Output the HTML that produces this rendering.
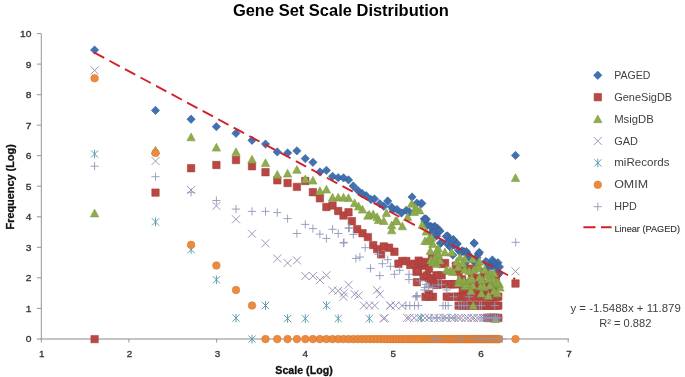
<!DOCTYPE html>
<html><head><meta charset="utf-8"><style>
html,body{margin:0;padding:0;background:#fff;}
svg{display:block;will-change:transform;}
text{font-family:"Liberation Sans",sans-serif;}
</style></head><body>
<svg width="685" height="377" viewBox="0 0 685 377">
<rect width="685" height="377" fill="#fff"/>
<text x="232.9" y="15.8" font-size="16.5" font-weight="bold" fill="#000" textLength="216" lengthAdjust="spacingAndGlyphs">Gene Set Scale Distribution</text>
<path d="M41.3 33.6V342.5" stroke="#959595" stroke-width="1" fill="none"/><path d="M36.9 339H568.8" stroke="#8a8a8a" stroke-width="1" fill="none"/><path d="M36.9 308.4H41M36.9 277.8H41M36.9 247.3H41M36.9 216.8H41M36.9 186.2H41M36.9 155.7H41M36.9 125.2H41M36.9 94.7H41M36.9 64.1H41M36.9 33.6H41M128.9 338.9V342.5M216.7 338.9V342.5M304.6 338.9V342.5M392.5 338.9V342.5M480.4 338.9V342.5M568.2 338.9V342.5" stroke="#959595" stroke-width="1" fill="none"/>
<g font-size="9" fill="#333" stroke="#333" stroke-width="0.3"><text x="25.7" y="342.4" textLength="5.7" lengthAdjust="spacingAndGlyphs">0</text><text x="25.7" y="311.9" textLength="5.7" lengthAdjust="spacingAndGlyphs">1</text><text x="25.7" y="281.3" textLength="5.7" lengthAdjust="spacingAndGlyphs">2</text><text x="25.7" y="250.8" textLength="5.7" lengthAdjust="spacingAndGlyphs">3</text><text x="25.7" y="220.3" textLength="5.7" lengthAdjust="spacingAndGlyphs">4</text><text x="25.7" y="189.7" textLength="5.7" lengthAdjust="spacingAndGlyphs">5</text><text x="25.7" y="159.2" textLength="5.7" lengthAdjust="spacingAndGlyphs">6</text><text x="25.7" y="128.7" textLength="5.7" lengthAdjust="spacingAndGlyphs">7</text><text x="25.7" y="98.2" textLength="5.7" lengthAdjust="spacingAndGlyphs">8</text><text x="25.7" y="67.6" textLength="5.7" lengthAdjust="spacingAndGlyphs">9</text><text x="20" y="37.1" textLength="11.4" lengthAdjust="spacingAndGlyphs">10</text><text x="39" y="356.9" textLength="5.5" lengthAdjust="spacingAndGlyphs">1</text><text x="126.8" y="356.9" textLength="5.5" lengthAdjust="spacingAndGlyphs">2</text><text x="214.7" y="356.9" textLength="5.5" lengthAdjust="spacingAndGlyphs">3</text><text x="302.6" y="356.9" textLength="5.5" lengthAdjust="spacingAndGlyphs">4</text><text x="390.4" y="356.9" textLength="5.5" lengthAdjust="spacingAndGlyphs">5</text><text x="478.3" y="356.9" textLength="5.5" lengthAdjust="spacingAndGlyphs">6</text><text x="566.2" y="356.9" textLength="5.5" lengthAdjust="spacingAndGlyphs">7</text></g>
<text transform="translate(13.6 229.5) rotate(-90)" font-size="10.6" font-weight="bold" fill="#111" stroke="#111" stroke-width="0.3" textLength="85.3" lengthAdjust="spacingAndGlyphs">Frequency (Log)</text>
<text x="275.3" y="374.4" font-size="10.6" font-weight="bold" fill="#111" stroke="#111" stroke-width="0.3" textLength="57.4" lengthAdjust="spacingAndGlyphs">Scale (Log)</text>
<path d="M94.6 45.9L98.7 50L94.6 54.1L90.4 50ZM155.5 106.2L159.6 110.4L155.5 114.6L151.3 110.4ZM191.1 115L195.2 119.2L191.1 123.4L186.9 119.2ZM216.4 122.5L220.5 126.7L216.4 130.8L212.2 126.7ZM236 129.2L240.1 133.3L236 137.5L231.8 133.3ZM252 136.2L256.1 140.3L252 144.5L247.8 140.3ZM265.5 139.9L269.7 144.1L265.5 148.2L261.4 144.1ZM277.3 147.8L281.4 151.9L277.3 156.1L273.1 151.9ZM287.6 148.8L291.8 152.9L287.6 157.1L283.5 152.9ZM296.9 146.7L301 150.8L296.9 155L292.7 150.8ZM305.3 154.4L309.4 158.6L305.3 162.8L301.1 158.6ZM312.9 158.2L317.1 162.3L312.9 166.5L308.8 162.3ZM319.9 167.8L324.1 172L319.9 176.2L315.8 172ZM326.4 166.2L330.6 170.3L326.4 174.5L322.3 170.3ZM332.5 172.2L336.7 176.3L332.5 180.5L328.4 176.3ZM338.2 173.5L342.3 177.7L338.2 181.8L334 177.7ZM343.5 173.7L347.7 177.8L343.5 182L339.4 177.8ZM348.5 175.8L352.7 179.9L348.5 184.1L344.4 179.9ZM353.3 181.8L357.4 186L353.3 190.2L349.1 186ZM357.8 186.2L361.9 190.3L357.8 194.5L353.6 190.3ZM362.1 189.3L366.2 193.5L362.1 197.7L357.9 193.5ZM366.2 191.5L370.3 195.7L366.2 199.8L362 195.7ZM371 195.3L375.1 199.5L371 203.7L366.9 199.5ZM374.5 194.8L378.6 198.9L374.5 203.1L370.4 198.9ZM379.8 199.5L383.9 203.7L379.8 207.8L375.7 203.7ZM383.8 202.2L387.9 206.3L383.8 210.5L379.7 206.3ZM387.7 196.8L391.8 201L387.7 205.2L383.6 201ZM391.5 202.8L395.6 207L391.5 211.2L387.4 207ZM393 205.3L397.1 209.5L393 213.7L388.9 209.5ZM397 205.3L401.1 209.5L397 213.7L392.9 209.5ZM401.5 208.8L405.6 213L401.5 217.2L397.4 213ZM406.3 206.2L410.4 210.3L406.3 214.5L402.2 210.3ZM409.5 207.8L413.6 212L409.5 216.2L405.4 212ZM412.1 192.8L416.2 197L412.1 201.2L408 197ZM416.9 198.9L421 203.1L416.9 207.2L412.8 203.1ZM420.9 199.5L425 203.7L420.9 207.8L416.8 203.7ZM424.4 214.8L428.5 219L424.4 223.2L420.2 219ZM430.2 222L434.3 226.2L430.2 230.3L426.1 226.2ZM435 223.3L439.1 227.5L435 231.7L430.9 227.5ZM438.7 227.3L442.8 231.5L438.7 235.7L434.6 231.5ZM426.3 215L430.4 219.2L426.3 223.3L422.2 219.2ZM431.6 222.9L435.8 227.1L431.6 231.2L427.5 227.1ZM436.9 225.7L441 229.8L436.9 234L432.8 229.8ZM440.9 238.8L445 243L440.9 247.2L436.8 243ZM446.2 232.2L450.3 236.4L446.2 240.6L442.1 236.4ZM450.2 242.8L454.3 247L450.2 251.2L446.1 247ZM452.9 236.2L457 240.4L452.9 244.6L448.8 240.4ZM456.8 240.2L460.9 244.4L456.8 248.6L452.7 244.4ZM462.1 246.8L466.2 251L462.1 255.2L458 251ZM467.4 249.5L471.5 253.7L467.4 257.8L463.2 253.7ZM474.1 238.8L478.2 243L474.1 247.2L470 243ZM476.7 253.5L480.8 257.6L476.7 261.8L472.6 257.6ZM479.4 248.2L483.5 252.3L479.4 256.4L475.2 252.3ZM486 257.5L490.1 261.6L486 265.8L481.9 261.6ZM490 261.5L494.1 265.6L490 269.8L485.9 265.6ZM494 258.9L498.1 263L494 267.1L489.9 263ZM499.3 262.8L503.4 266.9L499.3 271L495.2 266.9ZM498 270.8L502.1 274.9L498 279L493.9 274.9ZM515.5 151.2L519.6 155.4L515.5 159.6L511.4 155.4ZM421.9 199.2L426 203.4L421.9 207.6L417.8 203.4ZM425.2 214.7L429.3 218.8L425.2 223L421.1 218.8ZM431.5 222.8L435.6 226.9L431.5 231.1L427.4 226.9ZM437.6 224.2L441.8 228.4L437.6 232.6L433.5 228.4ZM447.5 231.7L451.6 235.8L447.5 240L443.4 235.8ZM453.4 235.3L457.5 239.5L453.4 243.7L449.2 239.5ZM457.1 239.4L461.2 243.6L457.1 247.8L453 243.6ZM440.4 239.2L444.5 243.3L440.4 247.5L436.2 243.3ZM474.2 239.2L478.3 243.3L474.2 247.5L470.1 243.3ZM460.8 248.3L464.9 252.5L460.8 256.6L456.7 252.5ZM466.4 247.4L470.5 251.6L466.4 255.8L462.2 251.6ZM478.5 249.3L482.6 253.5L478.5 257.6L474.4 253.5ZM492.4 255.8L496.5 260L492.4 264.1L488.2 260ZM498 258.6L502.1 262.7L498 266.8L493.9 262.7ZM470.1 254L474.2 258.1L470.1 262.2L466 258.1ZM450.2 242.8L454.3 247L450.2 251.2L446.1 247ZM462.1 246.8L466.2 251L462.1 255.2L458 251ZM494 258.9L498.1 263L494 267.1L489.9 263ZM486 257.5L490.1 261.6L486 265.8L481.9 261.6ZM490 261.5L494.1 265.6L490 269.8L485.9 265.6ZM499.3 262.8L503.4 266.9L499.3 271L495.2 266.9ZM498 270.8L502.1 274.9L498 279L493.9 274.9ZM476.7 253.5L480.8 257.6L476.7 261.8L472.6 257.6ZM425 217.2L429.2 221.4L425 225.5L420.9 221.4ZM427.1 220.9L431.2 225L427.1 229.2L422.9 225ZM431 228.9L435.1 233.1L431 237.2L426.8 233.1ZM432.9 231.1L437 235.3L432.9 239.4L428.7 235.3ZM434.7 222.1L438.9 226.3L434.7 230.4L430.6 226.3ZM436.5 231.9L440.7 236L436.5 240.2L432.4 236ZM440 226.8L444.2 230.9L440 235.1L435.9 230.9ZM446.7 239.1L450.8 243.2L446.7 247.4L442.5 243.2ZM449.8 235.4L454 239.5L449.8 243.7L445.7 239.5ZM452.8 250.9L457 255L452.8 259.2L448.7 255ZM454.3 241.3L458.5 245.4L454.3 249.6L450.2 245.4ZM458.6 246.4L462.8 250.6L458.6 254.7L454.5 250.6ZM464 247.5L468.2 251.6L464 255.8L459.9 251.6ZM465.3 258.9L469.5 263.1L465.3 267.2L461.2 263.1ZM469.1 251.5L473.3 255.7L469.1 259.8L465 255.7ZM472.7 256.1L476.9 260.3L472.7 264.4L468.6 260.3ZM473.9 256.9L478.1 261L473.9 265.2L469.8 261ZM477.4 258.9L481.5 263L477.4 267.2L473.2 263ZM478.5 249.9L482.6 254.1L478.5 258.2L474.3 254.1ZM488 263.8L492.1 267.9L488 272.1L483.8 267.9ZM491.9 262.3L496 266.5L491.9 270.6L487.7 266.5ZM493.8 258.6L497.9 262.7L493.8 266.9L489.6 262.7ZM495.6 261.8L499.8 266L495.6 270.1L491.5 266ZM497.4 267.2L501.6 271.4L497.4 275.5L493.3 271.4ZM499.2 269.2L503.4 273.3L499.2 277.5L495.1 273.3Z" fill="#4271B2" stroke="#375F9A" stroke-width="0.6"/>
<path d="M90.9 335.4h7.4v7.4h-7.4ZM151.8 188.9h7.4v7.4h-7.4ZM187.4 164.5h7.4v7.4h-7.4ZM212.7 161.3h7.4v7.4h-7.4ZM232.3 156.3h7.4v7.4h-7.4ZM248.3 162.5h7.4v7.4h-7.4ZM261.8 168.5h7.4v7.4h-7.4ZM273.6 176.6h7.4v7.4h-7.4ZM283.9 179.3h7.4v7.4h-7.4ZM293.2 183.2h7.4v7.4h-7.4ZM301.6 177.3h7.4v7.4h-7.4ZM309.2 188.5h7.4v7.4h-7.4ZM316.2 194.6h7.4v7.4h-7.4ZM322.7 203.3h7.4v7.4h-7.4ZM328.8 201.8h7.4v7.4h-7.4ZM334.5 207.3h7.4v7.4h-7.4ZM339.8 211.8h7.4v7.4h-7.4ZM344.8 208.6h7.4v7.4h-7.4ZM348.2 217.5h7.4v7.4h-7.4ZM353.5 225.5h7.4v7.4h-7.4ZM358.8 229.5h7.4v7.4h-7.4ZM364.2 233.4h7.4v7.4h-7.4ZM369.5 241.4h7.4v7.4h-7.4ZM373.4 245.4h7.4v7.4h-7.4ZM377.4 250.7h7.4v7.4h-7.4ZM380.1 242.7h7.4v7.4h-7.4ZM385.4 244h7.4v7.4h-7.4ZM390.7 248h7.4v7.4h-7.4ZM394.7 260h7.4v7.4h-7.4ZM398.6 257.3h7.4v7.4h-7.4ZM402.6 257.3h7.4v7.4h-7.4ZM406.6 261.3h7.4v7.4h-7.4ZM410.6 260h7.4v7.4h-7.4ZM414.5 266.6h7.4v7.4h-7.4ZM413.2 278.5h7.4v7.4h-7.4ZM419.9 273.2h7.4v7.4h-7.4ZM425.2 274.5h7.4v7.4h-7.4ZM429.1 277.2h7.4v7.4h-7.4ZM433.1 281.2h7.4v7.4h-7.4ZM425.2 290.5h7.4v7.4h-7.4ZM511.8 279.8h7.4v7.4h-7.4ZM412.8 268.1h7.4v7.4h-7.4ZM415 256.9h7.4v7.4h-7.4ZM417.2 259.3h7.4v7.4h-7.4ZM419.3 259.3h7.4v7.4h-7.4ZM421.3 262h7.4v7.4h-7.4ZM423.4 271.7h7.4v7.4h-7.4ZM425.3 264.9h7.4v7.4h-7.4ZM427.3 275.8h7.4v7.4h-7.4ZM429.2 280.5h7.4v7.4h-7.4ZM431 256.9h7.4v7.4h-7.4ZM432.8 271.7h7.4v7.4h-7.4ZM434.6 271.7h7.4v7.4h-7.4ZM436.3 280.5h7.4v7.4h-7.4ZM438 271.7h7.4v7.4h-7.4ZM439.7 280.5h7.4v7.4h-7.4ZM441.4 259.3h7.4v7.4h-7.4ZM443 292.9h7.4v7.4h-7.4ZM444.6 280.5h7.4v7.4h-7.4ZM447.6 280.5h7.4v7.4h-7.4ZM449.1 280.5h7.4v7.4h-7.4ZM450.6 280.5h7.4v7.4h-7.4ZM452.1 262h7.4v7.4h-7.4ZM453.5 292.9h7.4v7.4h-7.4ZM454.9 268.1h7.4v7.4h-7.4ZM456.3 280.5h7.4v7.4h-7.4ZM457.7 275.8h7.4v7.4h-7.4ZM459 286.1h7.4v7.4h-7.4ZM461.6 292.9h7.4v7.4h-7.4ZM462.9 286.1h7.4v7.4h-7.4ZM466.6 280.5h7.4v7.4h-7.4ZM467.9 264.9h7.4v7.4h-7.4ZM469 286.1h7.4v7.4h-7.4ZM470.2 286.1h7.4v7.4h-7.4ZM471.4 286.1h7.4v7.4h-7.4ZM473.7 286.1h7.4v7.4h-7.4ZM474.8 280.5h7.4v7.4h-7.4ZM475.9 275.8h7.4v7.4h-7.4ZM477 275.8h7.4v7.4h-7.4ZM478.1 286.1h7.4v7.4h-7.4ZM479.1 286.1h7.4v7.4h-7.4ZM480.2 280.5h7.4v7.4h-7.4ZM482.3 280.5h7.4v7.4h-7.4ZM483.3 286.1h7.4v7.4h-7.4ZM484.3 286.1h7.4v7.4h-7.4ZM485.3 292.9h7.4v7.4h-7.4ZM486.2 275.8h7.4v7.4h-7.4ZM487.2 286.1h7.4v7.4h-7.4ZM488.2 292.9h7.4v7.4h-7.4ZM489.1 280.5h7.4v7.4h-7.4ZM490.1 286.1h7.4v7.4h-7.4ZM491 271.7h7.4v7.4h-7.4ZM491.9 292.9h7.4v7.4h-7.4ZM494.6 292.9h7.4v7.4h-7.4ZM421.3 258.3h7.4v7.4h-7.4ZM428.3 254.3h7.4v7.4h-7.4ZM434.3 256.3h7.4v7.4h-7.4ZM438.3 260.3h7.4v7.4h-7.4ZM483.3 314.2h7.4v7.4h-7.4ZM485.3 314.2h7.4v7.4h-7.4ZM487.2 314.2h7.4v7.4h-7.4ZM489.1 314.2h7.4v7.4h-7.4ZM491 314.2h7.4v7.4h-7.4ZM492.8 314.2h7.4v7.4h-7.4ZM494.6 314.2h7.4v7.4h-7.4ZM454.9 301.9h7.4v7.4h-7.4ZM457.7 301.9h7.4v7.4h-7.4ZM460.3 301.9h7.4v7.4h-7.4ZM462.9 301.9h7.4v7.4h-7.4ZM465.4 301.9h7.4v7.4h-7.4ZM467.9 301.9h7.4v7.4h-7.4ZM470.2 301.9h7.4v7.4h-7.4ZM472.5 301.9h7.4v7.4h-7.4ZM474.8 301.9h7.4v7.4h-7.4ZM477 301.9h7.4v7.4h-7.4ZM479.1 301.9h7.4v7.4h-7.4ZM481.2 301.9h7.4v7.4h-7.4ZM483.3 301.9h7.4v7.4h-7.4ZM485.3 301.9h7.4v7.4h-7.4ZM487.2 301.9h7.4v7.4h-7.4ZM489.1 301.9h7.4v7.4h-7.4ZM491 301.9h7.4v7.4h-7.4ZM492.8 301.9h7.4v7.4h-7.4ZM494.6 301.9h7.4v7.4h-7.4ZM460.8 264.9h7.4v7.4h-7.4ZM468.3 270.3h7.4v7.4h-7.4ZM474.3 274.3h7.4v7.4h-7.4ZM480.3 268.3h7.4v7.4h-7.4ZM486.3 276.3h7.4v7.4h-7.4ZM492.3 272.3h7.4v7.4h-7.4ZM466.3 279.3h7.4v7.4h-7.4ZM476.3 282.3h7.4v7.4h-7.4ZM482.3 280.7h7.4v7.4h-7.4ZM458.3 276h7.4v7.4h-7.4ZM421.8 293.1h7.4v7.4h-7.4ZM425.3 293.1h7.4v7.4h-7.4ZM429.3 293.1h7.4v7.4h-7.4ZM446.1 293.1h7.4v7.4h-7.4ZM452.1 293.1h7.4v7.4h-7.4ZM457.7 293.1h7.4v7.4h-7.4ZM462.9 293.1h7.4v7.4h-7.4ZM467.9 293.1h7.4v7.4h-7.4ZM472.5 293.1h7.4v7.4h-7.4ZM477 293.1h7.4v7.4h-7.4ZM481.2 293.1h7.4v7.4h-7.4ZM485.3 293.1h7.4v7.4h-7.4ZM489.1 293.1h7.4v7.4h-7.4ZM492.8 293.1h7.4v7.4h-7.4Z" fill="#B94744" stroke="#A83F3C" stroke-width="0.6"/>
<path d="M94.6 209.1L98.8 216.9L90.4 216.9ZM155.5 146.3L159.7 154.1L151.3 154.1ZM191.1 133L195.3 140.8L186.9 140.8ZM216.4 143.3L220.6 151.1L212.2 151.1ZM236 147.8L240.2 155.6L231.8 155.6ZM252 155.2L256.2 163L247.8 163ZM265.5 158.8L269.7 166.6L261.3 166.6ZM277.3 170.4L281.5 178.2L273.1 178.2ZM287.6 169.3L291.8 177.1L283.4 177.1ZM296.9 165.5L301.1 173.3L292.7 173.3ZM305.3 175L309.5 182.8L301.1 182.8ZM312.9 176.3L317.1 184.1L308.7 184.1ZM319.9 186.8L324.1 194.6L315.7 194.6ZM326.4 185.2L330.6 193L322.2 193ZM332.5 193.3L336.7 201.1L328.3 201.1ZM338.2 193.3L342.4 201.1L334 201.1ZM343.5 193.3L347.7 201.1L339.3 201.1ZM348.5 193.8L352.7 201.6L344.3 201.6ZM354.6 198.9L358.8 206.7L350.4 206.7ZM358.6 202.1L362.8 209.9L354.4 209.9ZM362.5 205.3L366.7 213.1L358.3 213.1ZM367.9 211.4L372.1 219.2L363.7 219.2ZM373.2 210.1L377.4 217.9L369 217.9ZM377.1 212.8L381.3 220.6L372.9 220.6ZM383.8 216.7L388 224.5L379.6 224.5ZM386.4 208.8L390.6 216.6L382.2 216.6ZM391.7 226L395.9 233.8L387.5 233.8ZM395.7 216.7L399.9 224.5L391.5 224.5ZM402.3 222L406.5 229.8L398.1 229.8ZM407.6 212.7L411.8 220.5L403.4 220.5ZM411.6 199.5L415.8 207.3L407.4 207.3ZM415.6 203.4L419.8 211.2L411.4 211.2ZM419.6 206.1L423.8 213.9L415.4 213.9ZM422.2 220.7L426.4 228.5L418 228.5ZM426.2 227.3L430.4 235.1L422 235.1ZM431.5 233.4L435.7 241.2L427.3 241.2ZM369.2 210.4L373.4 218.2L365 218.2ZM378.5 215.7L382.7 223.5L374.3 223.5ZM391.7 221L395.9 228.8L387.5 228.8ZM397 217L401.2 224.8L392.8 224.8ZM414.3 207.7L418.5 215.5L410.1 215.5ZM427.5 236.9L431.7 244.7L423.3 244.7ZM432.8 239.6L437 247.4L428.6 247.4ZM432.8 258.1L437 265.9L428.6 265.9ZM436.8 246.2L441 254L432.6 254ZM429 234.9L433.2 242.7L424.8 242.7ZM430.3 246.8L434.5 254.6L426.1 254.6ZM438.3 244.2L442.5 252L434.1 252ZM444.9 248.1L449.1 255.9L440.7 255.9ZM451.5 248.1L455.7 255.9L447.3 255.9ZM456.8 257.4L461 265.2L452.6 265.2ZM464.8 254.8L469 262.6L460.6 262.6ZM472.7 254.8L476.9 262.6L468.5 262.6ZM479.4 257.4L483.6 265.2L475.2 265.2ZM434.3 257.4L438.5 265.2L430.1 265.2ZM439.6 256.1L443.8 263.9L435.4 263.9ZM450.2 266.7L454.4 274.5L446 274.5ZM458.2 262.7L462.4 270.5L454 270.5ZM464.8 265.4L469 273.2L460.6 273.2ZM474.1 265.4L478.3 273.2L469.9 273.2ZM478 264L482.2 271.8L473.8 271.8ZM484.7 265.4L488.9 273.2L480.5 273.2ZM487.3 270.7L491.5 278.5L483.1 278.5ZM488.7 274.7L492.9 282.5L484.5 282.5ZM494 276L498.2 283.8L489.8 283.8ZM498 278.6L502.2 286.4L493.8 286.4ZM459.5 276L463.7 283.8L455.3 283.8ZM468.8 276L473 283.8L464.6 283.8ZM479.4 273.3L483.6 281.1L475.2 281.1ZM490 281.3L494.2 289.1L485.8 289.1ZM495.4 314.8L499.6 322.6L491.2 322.6ZM515.5 173.7L519.7 181.5L511.3 181.5ZM470.9 286.8L475.1 294.6L466.7 294.6ZM488.4 291.5L492.6 299.3L484.2 299.3ZM481.4 289.2L485.6 297L477.2 297ZM473.2 301.4L477.4 309.2L469 309.2ZM459.2 275.1L463.4 282.9L455 282.9ZM500 283.3L504.2 291.1L495.8 291.1ZM465 281.8L469.2 289.6L460.8 289.6ZM494 286.8L498.2 294.6L489.8 294.6ZM425 236.8L429.2 244.5L420.8 244.5ZM431 255.9L435.2 263.7L426.8 263.7ZM434.7 254L438.9 261.7L430.5 261.7ZM436.5 259.8L440.7 267.6L432.3 267.6ZM438.3 250.4L442.5 258.2L434.1 258.2ZM446.7 265.6L450.9 273.3L442.5 273.3ZM452.8 267.6L457 275.4L448.6 275.4ZM458.6 278.7L462.8 286.5L454.4 286.5ZM460 253.1L464.2 260.9L455.8 260.9ZM462.7 259.4L466.9 267.1L458.5 267.1ZM464 277.1L468.2 284.9L459.8 284.9ZM466.6 279.7L470.8 287.5L462.4 287.5ZM469.1 266.9L473.3 274.7L464.9 274.7ZM471.6 274.4L475.8 282.2L467.4 282.2ZM472.7 281.3L476.9 289.1L468.5 289.1ZM478.5 261.3L482.7 269.1L474.3 269.1ZM480.7 282.2L484.9 289.9L476.5 289.9ZM481.8 275.8L486 283.6L477.6 283.6ZM483.9 282.7L488.1 290.5L479.7 290.5ZM489.9 269.2L494.1 277L485.7 277ZM491.9 273.9L496.1 281.6L487.7 281.6ZM493.8 268.9L498 276.7L489.6 276.7ZM496.5 278.3L500.7 286.1L492.3 286.1ZM497.4 289.1L501.6 296.8L493.2 296.8ZM499.2 279.6L503.4 287.4L495 287.4Z" fill="#8FAD4F" stroke="#809F43" stroke-width="0.6"/>
<path d="M90.6 66.4L98.6 74.4M98.6 66.4L90.6 74.4M151.5 157L159.5 165M159.5 157L151.5 165M187.1 186L195.1 194M195.1 186L187.1 194M212.4 201.9L220.4 209.9M220.4 201.9L212.4 209.9M232 215.3L240 223.3M240 215.3L232 223.3M248 229.7L256 237.7M256 229.7L248 237.7M261.5 239.3L269.5 247.3M269.5 239.3L261.5 247.3M273.3 254.5L281.3 262.5M281.3 254.5L273.3 262.5M283.6 259L291.6 267M291.6 259L283.6 267M292.9 256.4L300.9 264.4M300.9 256.4L292.9 264.4M301.3 272L309.3 280M309.3 272L301.3 280M308.9 272L316.9 280M316.9 272L308.9 280M315.9 276L323.9 284M323.9 276L315.9 284M322.4 271.3L330.4 279.3M330.4 271.3L322.4 279.3M328.5 286.3L336.5 294.3M336.5 286.3L328.5 294.3M334.2 286.8L342.2 294.8M342.2 286.8L334.2 294.8M339.5 292.8L347.5 300.8M347.5 292.8L339.5 300.8M344.5 280.8L352.5 288.8M352.5 280.8L344.5 288.8M340 288.8L348 296.8M348 288.8L340 296.8M350.6 290.2L358.6 298.2M358.6 290.2L350.6 298.2M354.6 291.5L362.6 299.5M362.6 291.5L354.6 299.5M373.1 286.2L381.1 294.2M381.1 286.2L373.1 294.2M375.8 290.2L383.8 298.2M383.8 290.2L375.8 298.2M359.9 301.5L367.9 309.5M367.9 301.5L359.9 309.5M365.3 301.5L373.3 309.5M373.3 301.5L365.3 309.5M370.8 301.5L378.8 309.5M378.8 301.5L370.8 309.5M386.1 301.5L394.1 309.5M394.1 301.5L386.1 309.5M391.6 301.5L399.6 309.5M399.6 301.5L391.6 309.5M379.6 314.6L387.6 322.6M387.6 314.6L379.6 322.6M511.5 267.3L519.5 275.3M519.5 267.3L511.5 275.3M386.6 301.6L394.6 309.6M394.6 301.6L386.6 309.6M397.9 301.6L405.9 309.6M405.9 301.6L397.9 309.6M380.6 313.9L388.6 321.9M388.6 313.9L380.6 321.9M403 313.9L411 321.9M411 313.9L403 321.9M405.4 313.9L413.4 321.9M413.4 313.9L405.4 321.9M410.2 313.9L418.2 321.9M418.2 313.9L410.2 321.9M414.7 313.9L422.7 321.9M422.7 313.9L414.7 321.9M421 313.9L429 321.9M429 313.9L421 321.9M425 313.9L433 321.9M433 313.9L425 321.9M430.7 313.9L438.7 321.9M438.7 313.9L430.7 321.9M434.3 313.9L442.3 321.9M442.3 313.9L434.3 321.9M439.4 313.9L447.4 321.9M447.4 313.9L439.4 321.9M442.7 313.9L450.7 321.9M450.7 313.9L442.7 321.9M447.3 313.9L455.3 321.9M455.3 313.9L447.3 321.9M450.3 313.9L458.3 321.9M458.3 313.9L450.3 321.9M454.6 313.9L462.6 321.9M462.6 313.9L454.6 321.9M457.4 313.9L465.4 321.9M465.4 313.9L457.4 321.9M461.3 313.9L469.3 321.9M469.3 313.9L461.3 321.9M463.9 313.9L471.9 321.9M471.9 313.9L463.9 321.9M467.6 313.9L475.6 321.9M475.6 313.9L467.6 321.9M469.9 313.9L477.9 321.9M477.9 313.9L469.9 321.9M473.4 313.9L481.4 321.9M481.4 313.9L473.4 321.9M475.6 313.9L483.6 321.9M483.6 313.9L475.6 321.9M478.8 313.9L486.8 321.9M486.8 313.9L478.8 321.9M480.9 313.9L488.9 321.9M488.9 313.9L480.9 321.9" stroke="#958BB2" stroke-width="0.9" fill="none"/>
<path d="M91 150.4L98.2 157.6M98.2 150.4L91 157.6M94.6 149.7V158.3M151.9 218.3L159.1 225.5M159.1 218.3L151.9 225.5M155.5 217.6V226.2M187.5 246L194.7 253.2M194.7 246L187.5 253.2M191.1 245.3V253.9M212.8 276.2L220 283.4M220 276.2L212.8 283.4M216.4 275.5V284.1M232.4 314.5L239.6 321.7M239.6 314.5L232.4 321.7M236 313.8V322.4M248.4 335.5L255.6 342.7M255.6 335.5L248.4 342.7M252 334.8V343.4M261.9 301.9L269.1 309.1M269.1 301.9L261.9 309.1M265.5 301.2V309.8M284 315L291.2 322.2M291.2 315L284 322.2M287.6 314.3V322.9M301.7 315L308.9 322.2M308.9 315L301.7 322.2M305.3 314.3V322.9M322.8 301.9L330 309.1M330 301.9L322.8 309.1M326.4 301.2V309.8M334.6 315L341.8 322.2M341.8 315L334.6 322.2M338.2 314.3V322.9M365.7 315L372.9 322.2M372.9 315L365.7 322.2M369.3 314.3V322.9M417.4 314.3L424.6 321.5M424.6 314.3L417.4 321.5M421 313.6V322.2" stroke="#5499AD" stroke-width="0.95" fill="none"/>
<path d="M90.8 78.2a3.8 3.8 0 1 0 7.6 0a3.8 3.8 0 1 0 -7.6 0M151.7 152.9a3.8 3.8 0 1 0 7.6 0a3.8 3.8 0 1 0 -7.6 0M187.3 244.8a3.8 3.8 0 1 0 7.6 0a3.8 3.8 0 1 0 -7.6 0M212.6 265.5a3.8 3.8 0 1 0 7.6 0a3.8 3.8 0 1 0 -7.6 0M232.2 290a3.8 3.8 0 1 0 7.6 0a3.8 3.8 0 1 0 -7.6 0M248.2 305.5a3.8 3.8 0 1 0 7.6 0a3.8 3.8 0 1 0 -7.6 0M261.7 339.1a3.8 3.8 0 1 0 7.6 0a3.8 3.8 0 1 0 -7.6 0M273.5 339.1a3.8 3.8 0 1 0 7.6 0a3.8 3.8 0 1 0 -7.6 0M283.8 339.1a3.8 3.8 0 1 0 7.6 0a3.8 3.8 0 1 0 -7.6 0M293.1 339.1a3.8 3.8 0 1 0 7.6 0a3.8 3.8 0 1 0 -7.6 0M301.5 339.1a3.8 3.8 0 1 0 7.6 0a3.8 3.8 0 1 0 -7.6 0M309.1 339.1a3.8 3.8 0 1 0 7.6 0a3.8 3.8 0 1 0 -7.6 0M316.1 339.1a3.8 3.8 0 1 0 7.6 0a3.8 3.8 0 1 0 -7.6 0M322.6 339.1a3.8 3.8 0 1 0 7.6 0a3.8 3.8 0 1 0 -7.6 0M328.7 339.1a3.8 3.8 0 1 0 7.6 0a3.8 3.8 0 1 0 -7.6 0M334.4 339.1a3.8 3.8 0 1 0 7.6 0a3.8 3.8 0 1 0 -7.6 0M339.7 339.1a3.8 3.8 0 1 0 7.6 0a3.8 3.8 0 1 0 -7.6 0M344.7 339.1a3.8 3.8 0 1 0 7.6 0a3.8 3.8 0 1 0 -7.6 0M349.5 339.1a3.8 3.8 0 1 0 7.6 0a3.8 3.8 0 1 0 -7.6 0M354 339.1a3.8 3.8 0 1 0 7.6 0a3.8 3.8 0 1 0 -7.6 0M358.3 339.1a3.8 3.8 0 1 0 7.6 0a3.8 3.8 0 1 0 -7.6 0M362.4 339.1a3.8 3.8 0 1 0 7.6 0a3.8 3.8 0 1 0 -7.6 0M366.3 339.1a3.8 3.8 0 1 0 7.6 0a3.8 3.8 0 1 0 -7.6 0M370 339.1a3.8 3.8 0 1 0 7.6 0a3.8 3.8 0 1 0 -7.6 0M373.6 339.1a3.8 3.8 0 1 0 7.6 0a3.8 3.8 0 1 0 -7.6 0M377 339.1a3.8 3.8 0 1 0 7.6 0a3.8 3.8 0 1 0 -7.6 0M380.4 339.1a3.8 3.8 0 1 0 7.6 0a3.8 3.8 0 1 0 -7.6 0M383.6 339.1a3.8 3.8 0 1 0 7.6 0a3.8 3.8 0 1 0 -7.6 0M386.6 339.1a3.8 3.8 0 1 0 7.6 0a3.8 3.8 0 1 0 -7.6 0M389.6 339.1a3.8 3.8 0 1 0 7.6 0a3.8 3.8 0 1 0 -7.6 0M392.5 339.1a3.8 3.8 0 1 0 7.6 0a3.8 3.8 0 1 0 -7.6 0M395.3 339.1a3.8 3.8 0 1 0 7.6 0a3.8 3.8 0 1 0 -7.6 0M398 339.1a3.8 3.8 0 1 0 7.6 0a3.8 3.8 0 1 0 -7.6 0M400.6 339.1a3.8 3.8 0 1 0 7.6 0a3.8 3.8 0 1 0 -7.6 0M403.2 339.1a3.8 3.8 0 1 0 7.6 0a3.8 3.8 0 1 0 -7.6 0M405.6 339.1a3.8 3.8 0 1 0 7.6 0a3.8 3.8 0 1 0 -7.6 0M408 339.1a3.8 3.8 0 1 0 7.6 0a3.8 3.8 0 1 0 -7.6 0M410.4 339.1a3.8 3.8 0 1 0 7.6 0a3.8 3.8 0 1 0 -7.6 0M412.7 339.1a3.8 3.8 0 1 0 7.6 0a3.8 3.8 0 1 0 -7.6 0M414.9 339.1a3.8 3.8 0 1 0 7.6 0a3.8 3.8 0 1 0 -7.6 0M417.1 339.1a3.8 3.8 0 1 0 7.6 0a3.8 3.8 0 1 0 -7.6 0M419.2 339.1a3.8 3.8 0 1 0 7.6 0a3.8 3.8 0 1 0 -7.6 0M421.2 339.1a3.8 3.8 0 1 0 7.6 0a3.8 3.8 0 1 0 -7.6 0M423.3 339.1a3.8 3.8 0 1 0 7.6 0a3.8 3.8 0 1 0 -7.6 0M425.2 339.1a3.8 3.8 0 1 0 7.6 0a3.8 3.8 0 1 0 -7.6 0M427.2 339.1a3.8 3.8 0 1 0 7.6 0a3.8 3.8 0 1 0 -7.6 0M429.1 339.1a3.8 3.8 0 1 0 7.6 0a3.8 3.8 0 1 0 -7.6 0M430.9 339.1a3.8 3.8 0 1 0 7.6 0a3.8 3.8 0 1 0 -7.6 0M432.7 339.1a3.8 3.8 0 1 0 7.6 0a3.8 3.8 0 1 0 -7.6 0M434.5 339.1a3.8 3.8 0 1 0 7.6 0a3.8 3.8 0 1 0 -7.6 0M436.2 339.1a3.8 3.8 0 1 0 7.6 0a3.8 3.8 0 1 0 -7.6 0M437.9 339.1a3.8 3.8 0 1 0 7.6 0a3.8 3.8 0 1 0 -7.6 0M439.6 339.1a3.8 3.8 0 1 0 7.6 0a3.8 3.8 0 1 0 -7.6 0M441.3 339.1a3.8 3.8 0 1 0 7.6 0a3.8 3.8 0 1 0 -7.6 0M442.9 339.1a3.8 3.8 0 1 0 7.6 0a3.8 3.8 0 1 0 -7.6 0M444.5 339.1a3.8 3.8 0 1 0 7.6 0a3.8 3.8 0 1 0 -7.6 0M446 339.1a3.8 3.8 0 1 0 7.6 0a3.8 3.8 0 1 0 -7.6 0M447.5 339.1a3.8 3.8 0 1 0 7.6 0a3.8 3.8 0 1 0 -7.6 0M449 339.1a3.8 3.8 0 1 0 7.6 0a3.8 3.8 0 1 0 -7.6 0M450.5 339.1a3.8 3.8 0 1 0 7.6 0a3.8 3.8 0 1 0 -7.6 0M452 339.1a3.8 3.8 0 1 0 7.6 0a3.8 3.8 0 1 0 -7.6 0M453.4 339.1a3.8 3.8 0 1 0 7.6 0a3.8 3.8 0 1 0 -7.6 0M454.8 339.1a3.8 3.8 0 1 0 7.6 0a3.8 3.8 0 1 0 -7.6 0M456.2 339.1a3.8 3.8 0 1 0 7.6 0a3.8 3.8 0 1 0 -7.6 0M457.6 339.1a3.8 3.8 0 1 0 7.6 0a3.8 3.8 0 1 0 -7.6 0M458.9 339.1a3.8 3.8 0 1 0 7.6 0a3.8 3.8 0 1 0 -7.6 0M460.2 339.1a3.8 3.8 0 1 0 7.6 0a3.8 3.8 0 1 0 -7.6 0M461.5 339.1a3.8 3.8 0 1 0 7.6 0a3.8 3.8 0 1 0 -7.6 0M462.8 339.1a3.8 3.8 0 1 0 7.6 0a3.8 3.8 0 1 0 -7.6 0M464.1 339.1a3.8 3.8 0 1 0 7.6 0a3.8 3.8 0 1 0 -7.6 0M465.3 339.1a3.8 3.8 0 1 0 7.6 0a3.8 3.8 0 1 0 -7.6 0M466.5 339.1a3.8 3.8 0 1 0 7.6 0a3.8 3.8 0 1 0 -7.6 0M467.8 339.1a3.8 3.8 0 1 0 7.6 0a3.8 3.8 0 1 0 -7.6 0M468.9 339.1a3.8 3.8 0 1 0 7.6 0a3.8 3.8 0 1 0 -7.6 0M470.1 339.1a3.8 3.8 0 1 0 7.6 0a3.8 3.8 0 1 0 -7.6 0M471.3 339.1a3.8 3.8 0 1 0 7.6 0a3.8 3.8 0 1 0 -7.6 0M472.4 339.1a3.8 3.8 0 1 0 7.6 0a3.8 3.8 0 1 0 -7.6 0M473.6 339.1a3.8 3.8 0 1 0 7.6 0a3.8 3.8 0 1 0 -7.6 0M474.7 339.1a3.8 3.8 0 1 0 7.6 0a3.8 3.8 0 1 0 -7.6 0M475.8 339.1a3.8 3.8 0 1 0 7.6 0a3.8 3.8 0 1 0 -7.6 0M476.9 339.1a3.8 3.8 0 1 0 7.6 0a3.8 3.8 0 1 0 -7.6 0M478 339.1a3.8 3.8 0 1 0 7.6 0a3.8 3.8 0 1 0 -7.6 0M479 339.1a3.8 3.8 0 1 0 7.6 0a3.8 3.8 0 1 0 -7.6 0M480.1 339.1a3.8 3.8 0 1 0 7.6 0a3.8 3.8 0 1 0 -7.6 0M481.1 339.1a3.8 3.8 0 1 0 7.6 0a3.8 3.8 0 1 0 -7.6 0M482.2 339.1a3.8 3.8 0 1 0 7.6 0a3.8 3.8 0 1 0 -7.6 0M483.2 339.1a3.8 3.8 0 1 0 7.6 0a3.8 3.8 0 1 0 -7.6 0M484.2 339.1a3.8 3.8 0 1 0 7.6 0a3.8 3.8 0 1 0 -7.6 0M485.2 339.1a3.8 3.8 0 1 0 7.6 0a3.8 3.8 0 1 0 -7.6 0M486.1 339.1a3.8 3.8 0 1 0 7.6 0a3.8 3.8 0 1 0 -7.6 0M487.1 339.1a3.8 3.8 0 1 0 7.6 0a3.8 3.8 0 1 0 -7.6 0M488.1 339.1a3.8 3.8 0 1 0 7.6 0a3.8 3.8 0 1 0 -7.6 0M489 339.1a3.8 3.8 0 1 0 7.6 0a3.8 3.8 0 1 0 -7.6 0M490 339.1a3.8 3.8 0 1 0 7.6 0a3.8 3.8 0 1 0 -7.6 0M490.9 339.1a3.8 3.8 0 1 0 7.6 0a3.8 3.8 0 1 0 -7.6 0M491.8 339.1a3.8 3.8 0 1 0 7.6 0a3.8 3.8 0 1 0 -7.6 0M492.7 339.1a3.8 3.8 0 1 0 7.6 0a3.8 3.8 0 1 0 -7.6 0M493.6 339.1a3.8 3.8 0 1 0 7.6 0a3.8 3.8 0 1 0 -7.6 0M494.5 339.1a3.8 3.8 0 1 0 7.6 0a3.8 3.8 0 1 0 -7.6 0M495.4 339.1a3.8 3.8 0 1 0 7.6 0a3.8 3.8 0 1 0 -7.6 0M511.7 339.1a3.8 3.8 0 1 0 7.6 0a3.8 3.8 0 1 0 -7.6 0" fill="#EC8A3F" stroke="#DA782F" stroke-width="0.6"/>
<path d="M90.5 166.2H98.7M94.6 162.1V170.3M151.4 176.7H159.6M155.5 172.6V180.8M187 192.3H195.2M191.1 188.2V196.4M212.3 200.5H220.5M216.4 196.4V204.6M231.9 209.1H240.1M236 205V213.2M247.9 211.4H256.1M252 207.3V215.5M261.4 211.4H269.6M265.5 207.3V215.5M273.2 212.6H281.4M277.3 208.5V216.7M283.5 218.6H291.7M287.6 214.5V222.7M292.8 233.5H301M296.9 229.4V237.6M301.2 224.4H309.4M305.3 220.3V228.5M308.8 228.6H317M312.9 224.5V232.7M315.8 234.1H324M319.9 230V238.2M322.3 238.4H330.5M326.4 234.3V242.5M328.4 229.3H336.6M332.5 225.2V233.4M334.1 233.5H342.3M338.2 229.4V237.6M339.4 243H347.6M343.5 238.9V247.1M344.4 228.2H352.6M348.5 224.1V232.3M345.2 227.9H353.4M349.3 223.8V232M349.2 234.5H357.4M353.3 230.4V238.6M339.9 242.4H348.1M344 238.3V246.5M361.1 247.7H369.3M365.2 243.6V251.8M355.8 257H364M359.9 252.9V261.1M351.8 258.4H360M355.9 254.3V262.5M374.4 254.4H382.6M378.5 250.3V258.5M378.3 263.7H386.5M382.4 259.6V267.8M383.6 259.7H391.8M387.7 255.6V263.8M386.3 266.3H394.5M390.4 262.2V270.4M366.4 268.4H374.6M370.5 264.3V272.5M375.7 275.6H383.9M379.8 271.5V279.7M390.3 274.3H398.5M394.4 270.2V278.4M395.6 270.3H403.8M399.7 266.2V274.4M404.9 274.3H413.1M409 270.2V278.4M404.9 279.6H413.1M409 275.5V283.7M415.5 280.9H423.7M419.6 276.8V285M420.8 287.5H429M424.9 283.4V291.6M424.8 286.2H433M428.9 282.1V290.3M428.7 287.5H436.9M432.8 283.4V291.6M412.8 295.5H421M416.9 291.4V299.6M511.6 242.3H519.8M515.7 238.2V246.4M412.9 296.8H421.1M417 292.7V300.9M414.2 305.6H422.4M418.3 301.5V309.7M420.2 290H428.4M424.3 285.9V294.1M422.2 284.4H430.4M426.3 280.3V288.5M424.2 287.5H432.4M428.3 283.4V291.6M434.1 284.9H442.3M438.2 280.8V289M437.4 284.4H445.6M441.5 280.3V288.5M442.7 290H450.9M446.8 285.9V294.1M441.4 305.6H449.6M445.5 301.5V309.7M444.1 305.6H452.3M448.2 301.5V309.7M449.4 296.8H457.6M453.5 292.7V300.9M454.7 305.6H462.9M458.8 301.5V309.7M457.3 305.6H465.5M461.4 301.5V309.7M459.9 305.6H468.1M464 301.5V309.7M462.9 305.6H471.1M467 301.5V309.7M464.9 296.8H473.1M469 292.7V300.9M475.4 305.6H483.6M479.5 301.5V309.7M477.4 305.6H485.6M481.5 301.5V309.7M490.6 305.6H498.8M494.7 301.5V309.7M401.8 305.6H410M405.9 301.5V309.7M405.7 305.6H413.9M409.8 301.5V309.7M410.4 305.6H418.6M414.5 301.5V309.7M411.7 296.8H419.9M415.8 292.7V300.9M438.9 305.6H447.1M443 301.5V309.7M479.8 317.9H488M483.9 313.8V322M481.9 317.9H490.1M486 313.8V322M483.9 317.9H492.1M488 313.8V322M485.8 317.9H494M489.9 313.8V322M487.8 317.9H496M491.9 313.8V322M489.7 317.9H497.9M493.8 313.8V322M491.5 317.9H499.7M495.6 313.8V322M493.3 317.9H501.5M497.4 313.8V322M495.1 317.9H503.3M499.2 313.8V322M426.9 317.9H435.1M431 313.8V322M432.9 317.9H441.1M437 313.8V322M438.9 317.9H447.1M443 313.8V322M444.9 317.9H453.1M449 313.8V322M450.9 317.9H459.1M455 313.8V322" stroke="#8F99B8" stroke-width="0.9" fill="none"/>
<path d="M428.3 338.9H436.5M432.4 334.8V343M431.6 338.9H439.8M435.7 334.8V343M435.9 338.9H444.1M440 334.8V343M453.5 338.9H461.7M457.6 334.8V343M457.9 338.9H466.1M462 334.8V343M468.8 338.9H477M472.9 334.8V343M473.2 338.9H481.4M477.3 334.8V343M477.6 338.9H485.8M481.7 334.8V343M481.9 338.9H490.1M486 334.8V343M486.3 338.9H494.5M490.4 334.8V343M490.7 338.9H498.9M494.8 334.8V343M495.1 338.9H503.3M499.2 334.8V343M498.4 338.9H506.6M502.5 334.8V343" stroke="#8F99B8" stroke-opacity="0.6" stroke-width="0.9" fill="none"/>
<line x1="93.9" y1="52" x2="515.2" y2="278.7" stroke="#D22029" stroke-width="1.9" stroke-dasharray="11.7 5.94" transform="translate(0 0.4)"/>
<g id="legend">
<path d="M597.8 71.1L601.9 75.3L597.8 79.5L593.6 75.3Z" fill="#4271B2" stroke="#375F9A" stroke-width="0.6"/>
<path d="M594.1 93.5h7.4v7.4h-7.4Z" fill="#B94744" stroke="#A83F3C" stroke-width="0.6"/>
<path d="M597.8 114.9L602 122.7L593.6 122.7Z" fill="#8FAD4F" stroke="#809F43" stroke-width="0.6"/>
<path d="M593.8 137L601.8 145M601.8 137L593.8 145" stroke="#958BB2" stroke-width="0.9" fill="none"/>
<path d="M594.2 159.3L601.4 166.5M601.4 159.3L594.2 166.5M597.8 158.6V167.2" stroke="#5499AD" stroke-width="0.95" fill="none"/>
<circle cx="597.8" cy="184.8" r="3.8" fill="#EC8A3F" stroke="#DA782F" stroke-width="0.6"/>
<path d="M593.7 206.7H601.9M597.8 202.6V210.8" stroke="#8F99B8" stroke-width="0.9" fill="none"/>
<text x="614.2" y="78.8" font-size="10.4" fill="#404040" textLength="36.2" lengthAdjust="spacingAndGlyphs">PAGED</text>
<text x="614.2" y="100.7" font-size="10.4" fill="#404040" textLength="58" lengthAdjust="spacingAndGlyphs">GeneSigDB</text>
<text x="614.2" y="122.6" font-size="10.4" fill="#404040" textLength="39.6" lengthAdjust="spacingAndGlyphs">MsigDB</text>
<text x="614.2" y="144.5" font-size="10.4" fill="#404040" textLength="23.7" lengthAdjust="spacingAndGlyphs">GAD</text>
<text x="614.2" y="166.4" font-size="10.4" fill="#404040" textLength="55.3" lengthAdjust="spacingAndGlyphs">miRecords</text>
<text x="614.2" y="188.3" font-size="10.4" fill="#404040" textLength="33.9" lengthAdjust="spacingAndGlyphs">OMIM</text>
<text x="614.2" y="210.2" font-size="10.4" fill="#404040" textLength="22.7" lengthAdjust="spacingAndGlyphs">HPD</text>
<path d="M583.4 227.3H595.5M601 227.3H611.6" stroke="#D22029" stroke-width="2.1"/>
<text x="614.4" y="231.6" font-size="8.9" fill="#333" stroke="#333" stroke-width="0.15" textLength="65.6" lengthAdjust="spacingAndGlyphs">Linear (PAGED)</text>
</g>
<g font-size="10.3" fill="#404040">
<text x="570.4" y="311.6" textLength="110.4" lengthAdjust="spacingAndGlyphs">y = -1.5488x + 11.879</text>
<text x="599.3" y="326.9" textLength="52" lengthAdjust="spacingAndGlyphs">R² = 0.882</text>
</g>
</svg>
</body></html>
